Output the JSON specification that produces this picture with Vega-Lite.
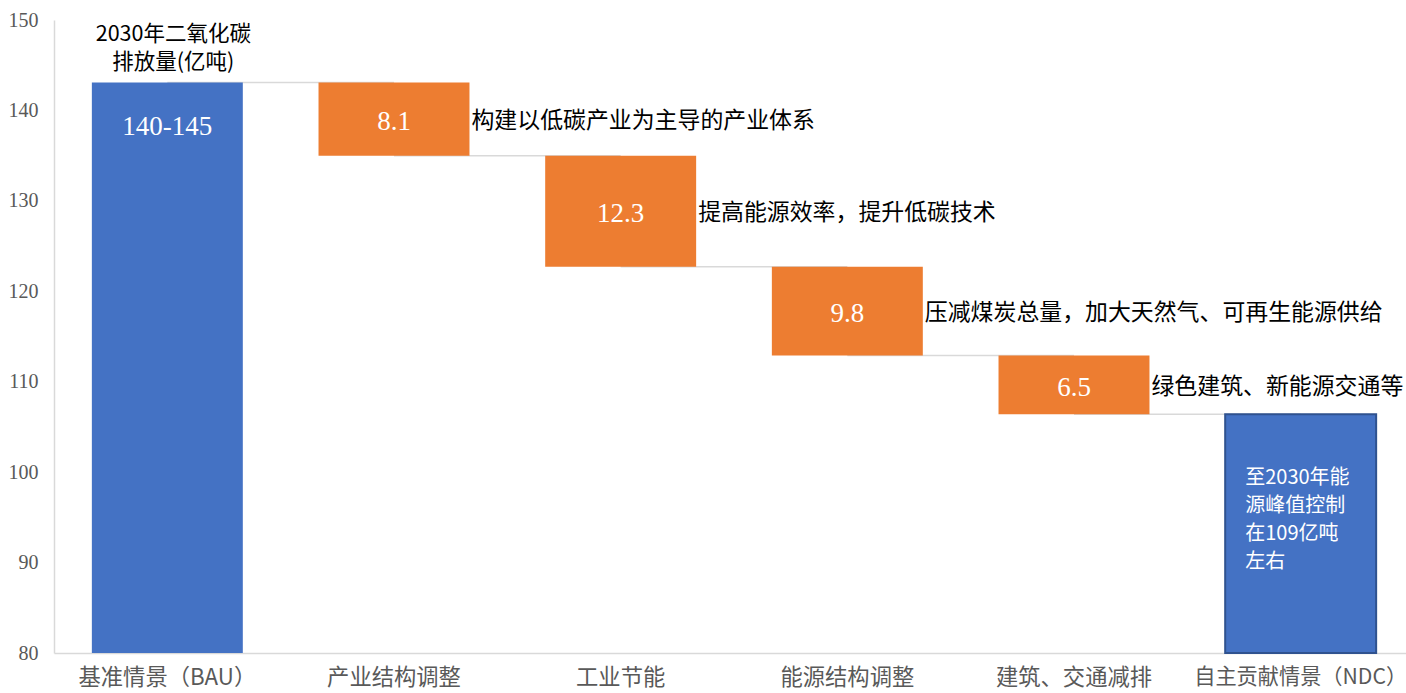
{
  "$schema": "https://vega.github.io/schema/vega-lite/v6.json",
  "autosize": "none",
  "width": 1352,
  "height": 633,
  "padding": {"left": 54, "top": 20, "right": 0, "bottom": 40},
  "background": "white",
  "config": {"view": {"stroke": null}},
  "datasets": {
    "bars": [
      {"cat": "基准情景（BAU）", "start": 80, "end": 143.1, "kind": "total", "label": "140-145", "note": ""},
      {"cat": "产业结构调整", "start": 143.1, "end": 135.0, "kind": "step", "label": "8.1", "note": "构建以低碳产业为主导的产业体系"},
      {"cat": "工业节能", "start": 135.0, "end": 122.7, "kind": "step", "label": "12.3", "note": "提高能源效率，提升低碳技术"},
      {"cat": "能源结构调整", "start": 122.7, "end": 112.9, "kind": "step", "label": "9.8", "note": "压减煤炭总量，加大天然气、可再生能源供给"},
      {"cat": "建筑、交通减排", "start": 112.9, "end": 106.4, "kind": "step", "label": "6.5", "note": "绿色建筑、新能源交通等"},
      {"cat": "自主贡献情景（NDC）", "start": 80, "end": 106.4, "kind": "ndc", "label": "至2030年能\n源峰值控制\n在109亿吨\n左右", "note": ""}
    ],
    "conn": [
      {"from": "基准情景（BAU）", "to": "产业结构调整", "level": 143.1},
      {"from": "产业结构调整", "to": "工业节能", "level": 135.0},
      {"from": "工业节能", "to": "能源结构调整", "level": 122.7},
      {"from": "能源结构调整", "to": "建筑、交通减排", "level": 112.9},
      {"from": "建筑、交通减排", "to": "自主贡献情景（NDC）", "level": 106.4}
    ]
  },
  "encoding": {
    "x": {
      "field": "cat", "type": "nominal", "sort": null,
      "scale": {"domain": ["基准情景（BAU）", "产业结构调整", "工业节能", "能源结构调整", "建筑、交通减排", "自主贡献情景（NDC）"], "range": [0, 1360], "paddingInner": 0.334, "paddingOuter": 0.167},
      "axis": {"title": null, "labelAngle": 0, "labelLimit": 400, "domainColor": "#d9d9d9", "domainWidth": 1.5, "ticks": false, "labelFont": "Noto Sans CJK SC", "labelFontSize": {"condition": {"test": "datum.value === '自主贡献情景（NDC）'", "value": 21.2}, "value": 22.3}, "labelColor": "#595959", "labelPadding": 13}
    }
  },
  "layer": [
    {
      "data": {"name": "conn"},
      "mark": {"type": "rule", "color": "#d9d9d9", "strokeWidth": 1.5},
      "encoding": {
        "x": {"field": "from", "type": "nominal", "sort": null},
        "x2": {"field": "to"},
        "y": {"field": "level", "type": "quantitative", "scale": {"domain": [80, 150], "nice": false, "zero": false},
              "axis": {"title": null, "values": [80, 90, 100, 110, 120, 130, 140, 150], "grid": false, "ticks": false, "domainColor": "#d9d9d9", "domainWidth": 1.5, "labelFont": "Liberation Serif", "labelFontSize": 20, "labelColor": "#595959", "labelPadding": 16}}
      }
    },
    {
      "data": {"name": "bars"},
      "mark": {"type": "bar", "clip": false},
      "encoding": {
        "y": {"field": "start", "type": "quantitative"},
        "y2": {"field": "end"},
        "color": {"field": "kind", "type": "nominal", "legend": null,
                  "scale": {"domain": ["total", "step", "ndc"], "range": ["#4472c4", "#ed7d31", "#4472c4"]}},
        "stroke": {"field": "kind", "type": "nominal", "legend": null,
                   "scale": {"domain": ["total", "step", "ndc"], "range": ["#4472c4", "#ed7d31", "#2f528f"]}},
        "strokeWidth": {"condition": {"test": "datum.kind === 'ndc'", "value": 2}, "value": 0}
      }
    },
    {
      "data": {"name": "bars"},
      "transform": [{"filter": "datum.kind === 'step'"}, {"calculate": "(datum.start + datum.end) / 2", "as": "mid"}],
      "mark": {"type": "text", "color": "white", "font": "Liberation Serif", "fontSize": 27, "baseline": "middle", "dy": 3},
      "encoding": {
        "y": {"field": "mid", "type": "quantitative"},
        "text": {"field": "label"}
      }
    },
    {
      "data": {"name": "bars"},
      "transform": [{"filter": "datum.kind === 'step'"}, {"calculate": "(datum.start + datum.end) / 2", "as": "mid"}],
      "mark": {"type": "text", "color": "black", "font": "Noto Sans CJK SC", "fontSize": 22.9, "align": "left", "baseline": "middle", "dx": 2, "dy": 2},
      "encoding": {
        "x": {"field": "cat", "type": "nominal", "sort": null, "bandPosition": 1},
        "y": {"field": "mid", "type": "quantitative"},
        "text": {"field": "note"}
      }
    },
    {
      "data": {"name": "bars"},
      "transform": [{"filter": "datum.kind === 'total'"}],
      "mark": {"type": "text", "color": "white", "font": "Liberation Serif", "fontSize": 27, "baseline": "middle", "dy": 45},
      "encoding": {
        "y": {"field": "end", "type": "quantitative"},
        "text": {"field": "label"}
      }
    },
    {
      "data": {"name": "bars"},
      "transform": [{"filter": "datum.kind === 'total'"}],
      "mark": {"type": "text", "color": "black", "font": "Noto Sans CJK SC", "fontSize": 21.5, "lineBreak": "\n", "lineHeight": 28, "baseline": "middle", "dx": 6, "dy": -47, "text": "2030年二氧化碳\n排放量(亿吨)"},
      "encoding": {
        "y": {"field": "end", "type": "quantitative"}
      }
    },
    {
      "data": {"name": "bars"},
      "transform": [{"filter": "datum.kind === 'ndc'"}],
      "mark": {"type": "text", "color": "white", "font": "Noto Sans CJK SC", "fontSize": 20, "lineBreak": "\n", "lineHeight": 28, "align": "left", "baseline": "top", "dx": 20, "dy": 54},
      "encoding": {
        "x": {"field": "cat", "type": "nominal", "sort": null, "bandPosition": 0},
        "y": {"field": "end", "type": "quantitative"},
        "text": {"field": "label"}
      }
    }
  ]
}
